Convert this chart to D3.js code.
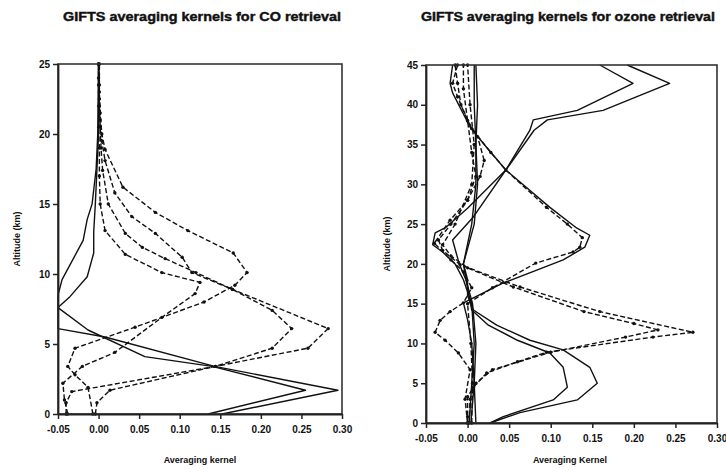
<!DOCTYPE html>
<html>
<head>
<meta charset="utf-8">
<script src="https://cdn.jsdelivr.net/npm/d3@7/dist/d3.min.js"></script>
<style>
  html, body { margin: 0; padding: 0; background: #fff; }
  svg { display: block; }
  text { font-family: "Liberation Sans", Arial, sans-serif; fill: #111; }
</style>
</head>
<body>
<svg id="chart" width="726" height="475"></svg>
<script>
// ---------------- DATA ----------------
const xTicks = [-0.05, 0.00, 0.05, 0.10, 0.15, 0.20, 0.25, 0.30];
const xTickLabels = ["-0.05", "0.00", "0.05", "0.10", "0.15", "0.20", "0.25", "0.30"];
const coAltTicks = [0, 5, 10, 15, 20, 25];
const o3AltTicks = [0, 5, 10, 15, 20, 25, 30, 35, 40, 45];

const coTitle = "GIFTS averaging kernels for CO retrieval";
const o3Title = "GIFTS averaging kernels for ozone retrieval";
const coXLabel = "Averaging kernel";
const o3XLabel = "Averaging Kernel";
const yLabel = "Altitude (km)";

// CO kernels: [altitude km, averaging kernel]
const coK1 = [[0,0.152],[1.7,0.295],[3.4,0.143],[5.5,0.008],[6.1,-0.05],[8.5,-0.05],[9.6,-0.045],[12.4,-0.019],[13.9,-0.014],[15,-0.008],[17.5,-0.003],[20,-0.001],[25,0.0]];
const coK2 = [[0,0.135],[1.7,0.255],[3.4,0.14],[4.1,0.057],[6.0,-0.013],[7.6,-0.05],[8.4,-0.035],[9.8,-0.014],[11.5,-0.006],[13,-0.006],[15,-0.004],[20,0.0],[25,0.0]];
const coK3 = [[0,-0.004],[0.8,-0.002],[1.7,0.014],[3.4,0.144],[4.7,0.258],[6.1,0.283],[8.9,0.165],[10.1,0.115],[11.2,0.103],[12.9,0.07],[14.1,0.041],[15.8,0.02],[18.1,0.008],[19.5,0.004],[21,0.002],[22.5,0.001],[24,0.0],[25,0.0]];
const coK4 = [[0,-0.04],[0.8,-0.04],[1.6,-0.033],[3.4,0.144],[4.7,0.214],[6.1,0.238],[7.4,0.214],[8.9,0.165],[10.1,0.12],[11.1,0.082],[11.9,0.054],[12.9,0.033],[15,0.012],[17.4,0.005],[19,0.003],[20.5,0.002],[22,0.001],[23.5,0.0],[25,0.0]];
const coK5 = [[0,-0.007],[1.9,-0.013],[2.8,-0.029],[3.4,-0.038],[4.7,-0.029],[6.2,0.045],[8,0.13],[9.2,0.168],[10.1,0.183],[11.5,0.166],[13.1,0.11],[14.4,0.07],[16.2,0.03],[18.9,0.008],[20,0.004],[21.5,0.002],[23,0.001],[25,0.001]];
const coK6 = [[0,-0.038],[1.0,-0.042],[2.2,-0.044],[3.4,-0.02],[4.4,0.02],[6.9,0.078],[8.6,0.119],[9.4,0.125],[10.1,0.078],[11.4,0.033],[13.1,0.008],[15,0.002],[17,0.001],[19,0.001],[20.5,0.0],[22,0.0],[23.5,0.001],[25,0.0]];

// Ozone kernels: [altitude km, averaging kernel]
const o3K1 = [[0,0.002],[5,0.005],[10,0.008],[15,0.005],[18,-0.005],[20,-0.015],[21.5,-0.03],[22.4,-0.042],[23.9,-0.039],[24.6,-0.026],[27,0.0],[31.8,0.046],[36.8,0.075],[38.1,0.079],[39.3,0.132],[42.7,0.199],[45,0.159]];
const o3K2 = [[0,0.004],[5,0.008],[10,0.01],[15,0.006],[18,-0.002],[20,-0.01],[23,-0.018],[25.9,0.007],[31.8,0.046],[36.8,0.08],[38.1,0.096],[39.3,0.163],[42.7,0.243],[45,0.192]];
const o3K3 = [[0,0.01],[5,0.008],[10,0.005],[13,0.0],[15.1,-0.005],[17.6,0.043],[20.5,0.115],[22.1,0.141],[23.6,0.147],[24.6,0.13],[27.1,0.099],[31.8,0.046],[35,0.02],[37.2,0.003],[41.5,-0.018],[42.7,-0.021],[45,-0.018]];
const o3K4 = [[0,0.005],[5,0.006],[10,0.004],[15,0.0],[17,0.03],[20.1,0.082],[21.5,0.127],[22.1,0.135],[23.3,0.138],[25,0.12],[27.1,0.095],[31.8,0.046],[34,0.028],[37,0.005],[40,-0.008],[42.7,-0.012],[45,-0.015]];
const o3K5 = [[0,0.0],[0.8,0.0],[3.3,0.0],[4.5,0.007],[6.3,0.023],[7.7,0.06],[8.9,0.095],[10.8,0.223],[11.4,0.271],[14,0.159],[17.1,0.063],[19.9,-0.009],[21.7,-0.03],[23,-0.035],[25,-0.02],[28,0.0],[31,0.015],[33,0.02],[36,0.012],[38,0.0],[41,-0.012],[42.7,-0.018],[45,-0.012]];
const o3K6 = [[0,0.002],[3,0.003],[5,0.01],[6.7,0.03],[8.9,0.1],[10.8,0.19],[11.7,0.229],[12.5,0.2],[14,0.14],[17.1,0.055],[19.5,0.0],[21,-0.02],[22.4,-0.03],[25,-0.015],[30,0.005],[35,0.008],[40,0.003],[45,0.0]];
const o3K7 = [[0,0.027],[1.3,0.063],[2.9,0.132],[5.0,0.156],[7,0.147],[9.2,0.115],[10.4,0.075],[12.3,0.035],[14.2,0.007],[16,0.0],[18,0.0],[20,-0.005],[25,0.005],[30,0.01],[35,0.01],[40,0.008],[45,0.008]];
const o3K8 = [[0,0.027],[0.8,0.043],[2.9,0.103],[4.5,0.12],[7,0.115],[8.8,0.099],[10.4,0.06],[12.3,0.025],[14.2,0.005],[17,0.0],[20,-0.005],[25,0.008],[30,0.012],[35,0.01],[40,0.012],[45,0.01]];
const o3K9 = [[0,0.0],[3,-0.003],[6.7,0.003],[8.8,-0.011],[10.4,-0.027],[11.4,-0.039],[12.9,-0.033],[14,-0.021],[15.1,-0.005],[17,0.005],[19,-0.005],[20.5,-0.02],[22.6,-0.04],[25.5,-0.021],[28,0.0],[31,0.01],[34,0.005],[38,0.0],[42,-0.005],[45,-0.005]];

const coSeries = [coK1, coK2, coK3, coK4, coK5, coK6];
const o3Series = [o3K1, o3K2, o3K3, o3K4, o3K5, o3K6, o3K7, o3K8, o3K9];

// ---------------- STYLES (kept separate from data) ----------------
const coDashed = [false, false, true, true, true, true];
const o3Dashed = [false, false, false, true, true, true, false, false, true];

// ---------------- DRAW ----------------
const svg = d3.select("#chart");

function panel(opts) {
  const { left, right, top, bottom, yMax, yTicks, series, dashed, title, titleX, titleLen, xLabel, xLabelX, yLabelX } = opts;
  const x = d3.scaleLinear().domain([-0.05, 0.30]).range([left, right]);
  const y = d3.scaleLinear().domain([0, yMax]).range([bottom, top]);
  const g = svg.append("g");

  const line = d3.line().x(d => x(d[1])).y(d => y(d[0]));
  series.forEach((s, i) => {
    g.append("path")
      .datum(s)
      .attr("d", line)
      .attr("fill", "none")
      .attr("stroke", "#111")
      .attr("stroke-width", 1.4)
      .attr("stroke-linejoin", "round")
      .attr("stroke-dasharray", dashed[i] ? "5,2.5" : null);
    if (dashed[i]) {
      g.selectAll(null).data(s).enter().append("circle")
        .attr("cx", d => x(d[1])).attr("cy", d => y(d[0]))
        .attr("r", 1.7).attr("fill", "#111");
    }
  });

  g.append("rect")
    .attr("x", left).attr("y", top)
    .attr("width", right - left).attr("height", bottom - top)
    .attr("fill", "none").attr("stroke", "#333").attr("stroke-width", 1.6);

  const xAxis = d3.axisBottom(x).tickValues(xTicks)
    .tickFormat((d, i) => xTickLabels[i]).tickSize(5).tickSizeOuter(0);
  const gx = g.append("g").attr("transform", `translate(0,${bottom})`).call(xAxis);
  const yAxis = d3.axisLeft(y).tickValues(yTicks).tickFormat(d => String(d)).tickSize(5).tickSizeOuter(0);
  const gy = g.append("g").attr("transform", `translate(${left},0)`).call(yAxis);
  [gx, gy].forEach(a => {
    a.select(".domain").attr("stroke", "#222").attr("stroke-width", 1.8);
    a.selectAll(".tick line").attr("stroke", "#222").attr("stroke-width", 1.5);
    a.selectAll("text").attr("font-size", 10).attr("fill", "#111")
      .attr("font-family", "Liberation Sans, Arial, sans-serif").attr("font-weight", "bold");
  });
  gx.selectAll("text").attr("dy", "1.05em");

  svg.append("text")
    .attr("x", titleX).attr("y", 21)
    .attr("text-anchor", "middle")
    .attr("font-size", 12).attr("font-weight", "bold")
    .attr("stroke", "#111").attr("stroke-width", 0.4)
    .attr("textLength", titleLen).attr("lengthAdjust", "spacingAndGlyphs")
    .text(title);

  svg.append("text")
    .attr("x", xLabelX).attr("y", 463)
    .attr("text-anchor", "middle").attr("font-size", 9).attr("font-weight", "bold")
    .text(xLabel);
  svg.append("text")
    .attr("transform", `translate(${yLabelX},${(top + bottom) / 2}) rotate(-90)`)
    .attr("text-anchor", "middle").attr("font-size", 9).attr("font-weight", "bold")
    .text(yLabel);
}

panel({ left: 58, right: 342, top: 64, bottom: 414, yMax: 25, yTicks: coAltTicks,
  series: coSeries, dashed: coDashed, title: coTitle, titleX: 202, titleLen: 278,
  xLabel: coXLabel, xLabelX: 200, yLabelX: 20 });

panel({ left: 426, right: 717, top: 65, bottom: 423, yMax: 45, yTicks: o3AltTicks,
  series: o3Series, dashed: o3Dashed, title: o3Title, titleX: 568, titleLen: 294,
  xLabel: o3XLabel, xLabelX: 570, yLabelX: 390 });
</script>
</body>
</html>
